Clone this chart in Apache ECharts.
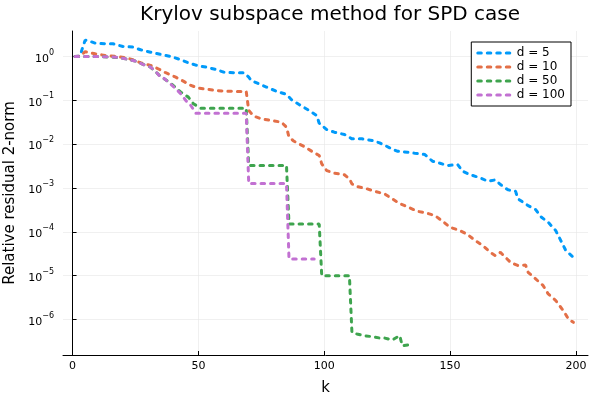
<!DOCTYPE html>
<html>
<head>
<meta charset="utf-8">
<script src="https://cdn.jsdelivr.net/npm/echarts@6/dist/echarts.min.js"></script>
<style>
    html, body { margin: 0; padding: 0; background: #fff; }
    #main { width: 600px; height: 400px; }
</style>
</head>
<body>
<div id="main"></div>
<script>
// 数据：k 为迭代步数，r 为相对残差
var k5 = [1, 3, 4, 5, 6, 9, 13, 16, 20, 24, 27, 31, 35, 39, 43, 46, 49, 53, 57, 60, 64, 68, 70, 71, 74, 77,
    81, 85, 87, 90, 94, 97, 98, 101, 104, 108, 111, 115, 119, 122, 126, 129, 133, 136, 140, 143,
    146, 149, 153, 155, 158, 162, 165, 168, 170, 173, 176, 177, 181, 184, 186, 189, 192, 194, 196, 199];
var r5 = [1.0, 1.02, 1.6, 2.35, 2.3, 2.01, 1.95, 1.95, 1.69, 1.63, 1.42, 1.25, 1.11, 1.0, 0.841, 0.718,
    0.632, 0.57, 0.505, 0.439, 0.425, 0.425, 0.337, 0.283, 0.238, 0.2, 0.161, 0.136, 0.103, 0.0802, 0.0585,
    0.045, 0.03, 0.0215, 0.0187, 0.0166, 0.0132, 0.0132, 0.0121, 0.0107, 0.00824, 0.00689, 0.00653, 0.00619, 0.00579, 0.00407,
    0.00366, 0.00324, 0.00342, 0.0024, 0.002, 0.0017, 0.00142, 0.00153, 0.0012, 0.000906,
    0.000841, 0.000564, 0.000396, 0.000321, 0.000222, 0.000165, 0.000106, 6.3e-5, 3.72e-5, 2.62e-5];

var k10 = [1, 3, 5, 9, 13, 17, 21, 24, 27, 31, 34, 37, 41, 44, 47, 50, 54, 57, 61, 65, 69, 70, 72, 75, 79,
    83, 85, 86, 88, 92, 95, 98, 99, 101, 104, 108, 110, 111, 113, 117, 120, 124, 127, 130, 134,
    137, 141, 144, 147, 150, 154, 157, 160, 163, 166, 168, 170, 172, 174, 177, 180, 181, 184, 187, 189,
    192, 195, 197, 199];
var r10 = [1.0, 1.02, 1.28, 1.15, 1.05, 1.0, 0.934, 0.841, 0.718, 0.623, 0.523, 0.425, 0.337, 0.273, 0.218,
    0.189, 0.177, 0.167, 0.161, 0.159, 0.159, 0.0585, 0.0434, 0.0378, 0.0346, 0.0316, 0.0243, 0.0144, 0.0116, 0.00881,
    0.00689, 0.0055, 0.00355, 0.00249, 0.00217, 0.002, 0.00161, 0.00124, 0.00108, 0.000955,
    0.000841, 0.000733, 0.000564, 0.00044, 0.000352, 0.000294, 0.000264, 0.000234, 0.000174, 0.000127,
    0.000106, 8.63e-5, 6.3e-5, 4.84e-5, 3.4e-5, 2.86e-5, 3.4e-5, 2.62e-5, 2.01e-5, 1.69e-5,
    1.75e-5, 1.19e-5, 8.41e-6, 5.91e-6, 3.82e-6, 2.69e-6, 1.59e-6, 1.03e-6, 8.6e-7];

var k50 = [1, 8, 16, 21, 25, 28, 31, 35, 39, 43, 46, 48, 51, 69, 70, 85, 86, 98, 99, 110,
    111, 113, 116, 119, 122, 124, 127, 130, 131, 134];
var r50 = [1.0, 1.0, 0.964, 0.886, 0.781, 0.657, 0.57, 0.349, 0.245, 0.153, 0.118, 0.0832, 0.066, 0.066, 0.00325,
    0.00325, 0.000151, 0.000151, 1e-5, 1e-5, 5.07e-7, 4.67e-7, 4.27e-7, 4.05e-7, 3.78e-7,
    3.78e-7, 3.4e-7, 4.27e-7, 2.52e-7, 2.66e-7];

var k100 = [1, 8, 17, 21, 25, 28, 31, 33, 35, 36, 40, 43, 45, 47, 49, 69, 70, 85, 86, 96];
var r100 = [1.0, 1.0, 0.964, 0.886, 0.781, 0.657, 0.57, 0.455, 0.337, 0.327, 0.207, 0.141, 0.0989, 0.076, 0.0507,
    0.0507, 0.00126, 0.00126, 2.41e-5, 2.41e-5];

var names = ['d = 5', 'd = 10', 'd = 50', 'd = 100'];
var colors = ['#009AFA', '#E36F47', '#3EA44E', '#C271D2'];
var xTicks = [0, 50, 100, 150, 200];
var yTicks = [1e-6, 1e-5, 1e-4, 1e-3, 1e-2, 1e-1, 1];

function zip(ks, rs) {
    var out = [];
    for (var i = 0; i < ks.length; i++) {
        out.push([ks[i], rs[i]]);
    }
    return out;
}

var font = 'DejaVu Sans';
var allK = [k5, k10, k50, k100];
var allR = [r5, r10, r50, r100];
var series = [];
for (var i = 0; i < names.length; i++) {
    series.push({
        name: names[i],
        type: 'line',
        symbol: 'none',
        data: zip(allK[i], allR[i]),
        lineStyle: {
            color: colors[i],
            width: 3,
            type: [3.5, 6],
            cap: 'round'
        },
        itemStyle: { color: colors[i] }
    });
}

var myChart = echarts.init(document.getElementById('main'));
var option = {
    animation: false,
    textStyle: { fontFamily: font },
    title: {
        text: 'Krylov subspace method for SPD case',
        left: 325,
        top: 0,
        textAlign: 'center',
        textStyle: { fontFamily: font, fontSize: 20, fontWeight: 'normal', color: '#000' }
    },
    legend: {
        data: names,
        orient: 'vertical',
        right: 29,
        top: 42,
        padding: [5, 6, 5, 5],
        itemGap: 2,
        itemWidth: 34,
        itemHeight: 12,
        borderColor: '#000',
        borderWidth: 1,
        backgroundColor: '#fff',
        itemStyle: { opacity: 0 },
        lineStyle: { width: 3, type: [3.5, 6], cap: 'round' },
        textStyle: { fontFamily: font, fontSize: 12, color: '#000' }
    },
    grid: {
        left: 63,
        right: 12,
        top: 31,
        bottom: 45,
        containLabel: false,
        outerBoundsMode: 'none'
    },
    xAxis: {
        type: 'value',
        min: -3.8,
        max: 204.8,
        name: 'k',
        nameLocation: 'middle',
        nameGap: 26,
        nameTextStyle: { fontFamily: font, fontSize: 15, color: '#000' },
        axisLine: { lineStyle: { color: '#000', width: 1 } },
        axisTick: { inside: true, length: 4, customValues: xTicks, lineStyle: { color: '#000' } },
        axisLabel: { customValues: xTicks, margin: 6, fontSize: 11, color: '#000', fontFamily: font },
        splitLine: { show: true, lineStyle: { color: '#e6e6e6', width: 0.6 } }
    },
    yAxis: {
        type: 'log',
        logBase: 10,
        min: Math.pow(10, -6.81),
        max: Math.pow(10, 0.58),
        name: 'Relative residual 2-norm',
        nameLocation: 'middle',
        nameGap: 41,
        nameTextStyle: { fontFamily: font, fontSize: 15, color: '#000' },
        axisLine: { show: true, lineStyle: { color: '#000', width: 1 } },
        axisTick: { show: true, inside: true, length: 4, customValues: yTicks, lineStyle: { color: '#000' } },
        axisLabel: {
            customValues: yTicks,
            margin: 9,
            color: '#000',
            formatter: function (v) {
                var e = Math.round(Math.log10(v));
                var s = e < 0 ? '\u2212' + (-e) : '' + e;
                return '{b|10}{s|' + s + '}';
            },
            rich: {
                b: { fontSize: 11, fontFamily: font, color: '#000', lineHeight: 16, verticalAlign: 'bottom' },
                s: { fontSize: 8, fontFamily: font, color: '#000', lineHeight: 16, verticalAlign: 'top' }
            }
        },
        splitLine: { show: true, lineStyle: { color: '#e6e6e6', width: 0.6 } }
    },
    series: series
};
myChart.setOption(option);
</script>
</body>
</html>
